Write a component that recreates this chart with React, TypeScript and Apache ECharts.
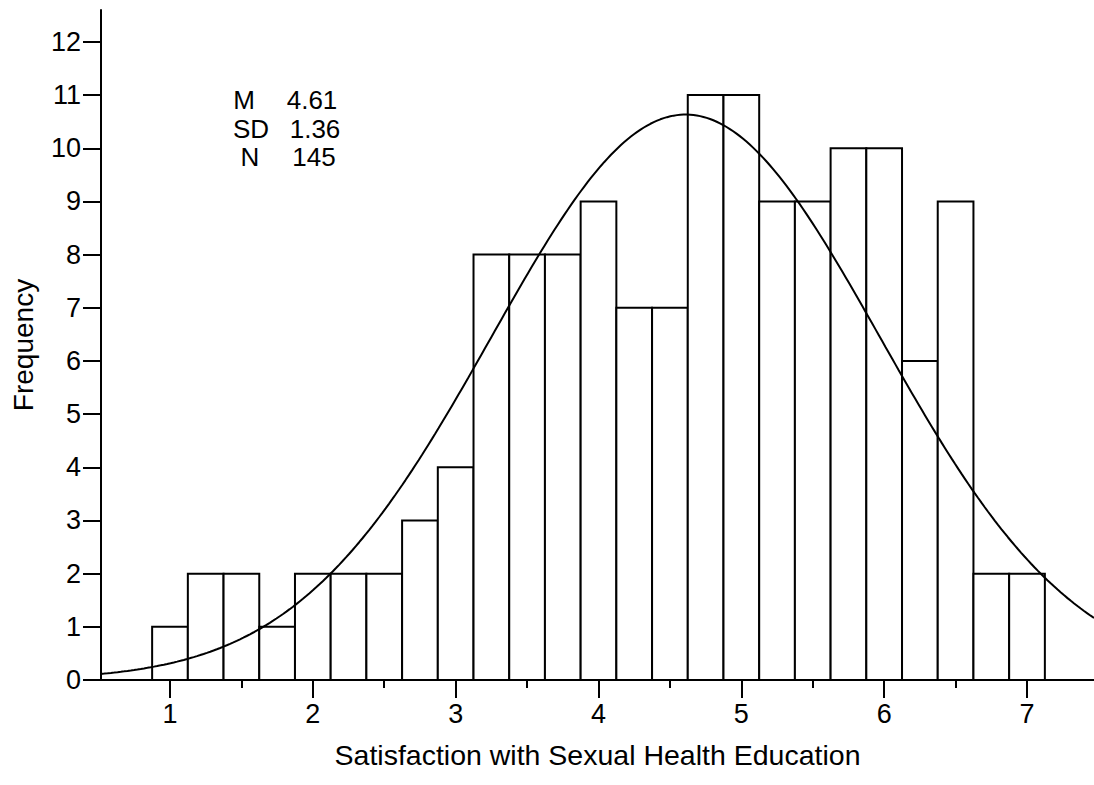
import React, { useEffect, useRef } from "react";
import * as echarts from "echarts";

// Histogram bins (centres) and their frequencies
const binCenters = [
  1.0, 1.25, 1.5, 1.75, 2.0, 2.25, 2.5, 2.75, 3.0, 3.25, 3.5, 3.75, 4.0,
  4.25, 4.5, 4.75, 5.0, 5.25, 5.5, 5.75, 6.0, 6.25, 6.5, 6.75, 7.0,
];
const frequencies = [
  1, 2, 2, 1, 2, 2, 2, 3, 4, 8, 8, 8, 9, 7, 7, 11, 11, 9, 9, 10, 10, 6, 9, 2, 2,
];
const binWidth = 0.25;

// Summary statistics shown in the corner and used for the fitted normal curve
const statLabels = ["M", "SD", "N"];
const statValues = ["4.61", "1.36", "145"];
const meanValue = 4.61;
const sdValue = 1.36;
const nValue = 145;

// Axis ticks
const xTickValues = [1, 2, 3, 4, 5, 6, 7];
const xMinorTickValues = [1.5, 2.5, 3.5, 4.5, 5.5, 6.5];
const yTickValues = [0, 1, 2, 3, 4, 5, 6, 7, 8, 9, 10, 11, 12];
const xMin = 0.517;
const xMax = 7.469;
const yMax = 12.6;

const FONT = "'Liberation Sans', Arial, Helvetica, sans-serif";

// Expected frequency per bin under the normal model
function normalCurve(): number[][] {
  const pts: number[][] = [];
  const steps = 300;
  const scale = (nValue * binWidth) / (sdValue * Math.sqrt(2 * Math.PI));
  for (let i = 0; i <= steps; i++) {
    const x = xMin + ((xMax - xMin) * i) / steps;
    const z = (x - meanValue) / sdValue;
    pts.push([x, scale * Math.exp(-0.5 * z * z)]);
  }
  return pts;
}

export default function App() {
  const ref = useRef<HTMLDivElement>(null);

  useEffect(() => {
    if (!ref.current) return;
    const chart = echarts.init(ref.current, undefined, { renderer: "svg" });
    const histData = binCenters.map((c, i) => [c, frequencies[i]]);

    // Statistics block: label column and value column
    const labelX = [244, 251, 250];
    const valueX = [312, 315, 314];
    const statTexts: any[] = [];
    statLabels.forEach((lab, i) => {
      const common = {
        fontSize: 26,
        fontFamily: FONT,
        fill: "#000",
        align: "center",
        verticalAlign: "middle",
        textAlign: "center",
        textVerticalAlign: "middle",
      };
      statTexts.push({
        type: "text",
        x: labelX[i],
        y: 100 + i * 28.5,
        style: { ...common, text: lab },
      });
      statTexts.push({
        type: "text",
        x: valueX[i],
        y: 100 + i * 28.5,
        style: { ...common, text: statValues[i] },
      });
    });

    chart.setOption({
      animation: false,
      backgroundColor: "#fff",
      textStyle: { fontFamily: FONT },
      grid: { left: 101, right: 0, top: 10, bottom: 105, containLabel: false },
      xAxis: [
        {
          type: "value",
          position: "bottom",
          min: xMin,
          max: xMax,
          name: "Satisfaction with Sexual Health Education",
          nameLocation: "middle",
          nameGap: 60,
          nameTextStyle: { fontSize: 28.5, color: "#000", fontFamily: FONT },
          axisLine: { show: true, lineStyle: { color: "#000", width: 2 } },
          axisTick: {
            show: true,
            customValues: xTickValues,
            length: 18,
            lineStyle: { color: "#000", width: 2 },
          },
          axisLabel: {
            customValues: xTickValues,
            fontSize: 27,
            color: "#000",
            margin: 20,
            fontFamily: FONT,
          },
          splitLine: { show: false },
        },
        {
          type: "value",
          position: "bottom",
          min: xMin,
          max: xMax,
          axisLine: { show: false },
          axisTick: {
            show: true,
            customValues: xMinorTickValues,
            length: 8,
            lineStyle: { color: "#000", width: 2 },
          },
          axisLabel: { show: false },
          splitLine: { show: false },
        },
      ],
      yAxis: {
        type: "value",
        min: 0,
        max: yMax,
        name: "Frequency",
        nameLocation: "middle",
        nameGap: 64,
        nameRotate: 90,
        nameTextStyle: { fontSize: 28, color: "#000", fontFamily: FONT },
        axisLine: { show: true, lineStyle: { color: "#000", width: 2 } },
        axisTick: {
          show: true,
          customValues: yTickValues,
          length: 18,
          lineStyle: { color: "#000", width: 2 },
        },
        axisLabel: {
          customValues: yTickValues,
          fontSize: 27,
          color: "#000",
          margin: 20,
          fontFamily: FONT,
        },
        splitLine: { show: false },
      },
      series: [
        {
          type: "custom",
          xAxisIndex: 0,
          data: histData,
          encode: { x: 0, y: 1 },
          z: 2,
          renderItem: (params: any, api: any) => {
            const c = api.value(0);
            const v = api.value(1);
            const p0 = api.coord([c - binWidth / 2, v]);
            const p1 = api.coord([c + binWidth / 2, 0]);
            return {
              type: "rect",
              shape: {
                x: p0[0],
                y: p0[1],
                width: p1[0] - p0[0],
                height: p1[1] - p0[1],
              },
              style: { fill: "#fff", stroke: "#000", lineWidth: 2 },
            };
          },
        },
        {
          type: "line",
          xAxisIndex: 0,
          data: normalCurve(),
          showSymbol: false,
          symbol: "none",
          smooth: false,
          z: 3,
          lineStyle: { color: "#000", width: 2 },
          silent: true,
        },
      ],
      graphic: statTexts,
    });

    return () => chart.dispose();
  }, []);

  return (
    <div
      ref={ref}
      style={{
        position: "fixed",
        left: 0,
        top: 0,
        width: 1094,
        height: 785,
        background: "#fff",
      }}
    />
  );
}
